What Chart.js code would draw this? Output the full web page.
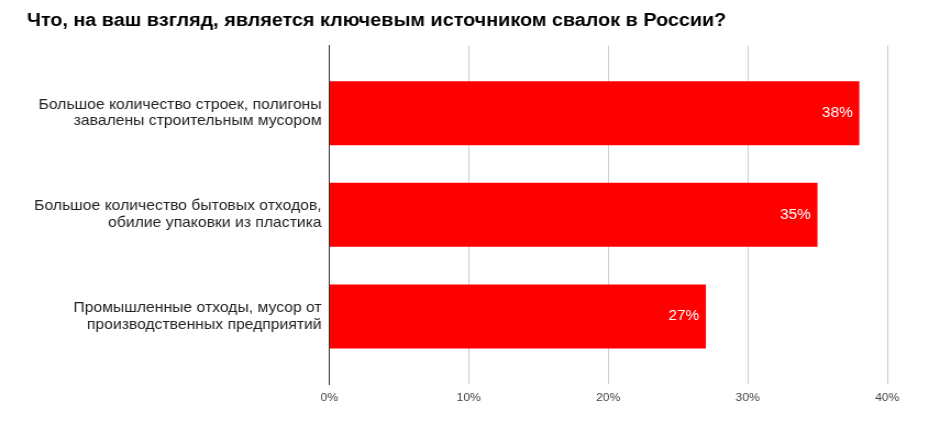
<!DOCTYPE html>
<html>
<head>
<meta charset="utf-8">
<script src="https://cdn.jsdelivr.net/npm/chart.js@4"></script>
<style>
  body { margin: 0; background: #fff; overflow: hidden; }
  /* the source picture is slightly stretched sideways, so draw narrower and stretch */
  #wrap { width: 845px; height: 423px; position: relative; transform: scaleX(1.0994); transform-origin: 0 0; }
</style>
</head>
<body>
<div id="wrap"><canvas id="chart"></canvas></div>
<script>
const title = 'Что, на ваш взгляд, является ключевым источником свалок в России?';
const categories = [
  ['Большое количество строек, полигоны', 'завалены строительным мусором'],
  ['Большое количество бытовых отходов,', 'обилие упаковки из пластика'],
  ['Промышленные отходы, мусор от', 'производственных предприятий']
];
const shares = [38, 35, 27];
const xTicks = [0, 10, 20, 30, 40];

const FONT = '"Liberation Sans", Arial, sans-serif';

// white value labels at the end of each bar
const valueLabels = {
  id: 'valueLabels',
  afterDatasetsDraw(chart) {
    const ctx = chart.ctx;
    const meta = chart.getDatasetMeta(0);
    ctx.save();
    ctx.fillStyle = '#ffffff';
    ctx.font = '14px ' + FONT;
    ctx.textAlign = 'right';
    ctx.textBaseline = 'middle';
    meta.data.forEach((bar, i) => {
      ctx.fillText(shares[i] + '%', bar.x - 6, bar.y);
    });
    ctx.restore();
  }
};

new Chart(document.getElementById('chart'), {
  type: 'bar',
  data: {
    datasets: [{
      data: shares.map((v, i) => ({ x: v, y: i })),
      backgroundColor: '#ff0000',
      borderWidth: 0,
      categoryPercentage: 1,
      barPercentage: 0.63
    }]
  },
  options: {
    indexAxis: 'y',
    responsive: true,
    maintainAspectRatio: false,
    animation: false,
    events: [],
    layout: { padding: { left: 24.5, right: 38, top: 0, bottom: 0 } },
    plugins: {
      legend: { display: false },
      tooltip: { enabled: false },
      title: {
        display: true,
        text: title,
        align: 'start',
        color: '#000000',
        font: { family: FONT, size: 18, weight: 'bold' },
        padding: { top: 10, bottom: 14 }
      }
    },
    scales: {
      x: {
        type: 'linear',
        min: 0,
        max: 40,
        afterBuildTicks: s => { s.ticks = xTicks.map(v => ({ value: v })); },
        afterFit: s => { s.height = 39; },
        grid: {
          color: c => (c.tick && c.tick.value === 0) ? '#333333' : '#cccccc',
          drawTicks: false
        },
        border: { display: false },
        ticks: {
          padding: 7,
          color: '#444444',
          font: { family: FONT, size: 11 },
          callback: v => v + '%'
        }
      },
      y: {
        type: 'linear',
        reverse: true,
        offset: false,
        min: -0.665,
        max: 2.665,
        afterBuildTicks: s => { s.ticks = categories.map((_, i) => ({ value: i })); },
        afterFit: s => { s.width = 275; },
        grid: { display: false, drawTicks: false, offset: false },
        border: { display: true, color: '#333333', width: 1 },
        ticks: {
          padding: 7,
          color: '#222222',
          font: { family: FONT, size: 14.3, lineHeight: 1.17 },
          callback: v => categories[v]
        }
      }
    }
  },
  plugins: [valueLabels]
});
</script>
</body>
</html>
